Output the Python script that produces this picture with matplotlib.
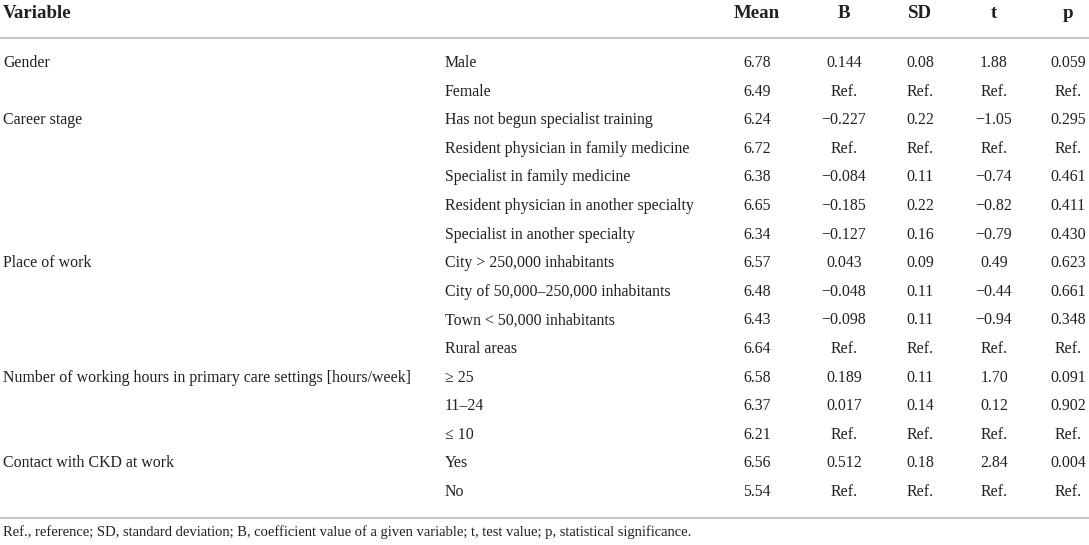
import matplotlib
matplotlib.use('Agg')
import matplotlib.pyplot as plt

# table contents
variables = ["Gender", "", "Career stage", "", "", "", "", "Place of work", "", "", "",
             "Number of working hours in primary care settings [hours/week]", "", "",
             "Contact with CKD at work", ""]
levels = ["Male", "Female", "Has not begun specialist training",
          "Resident physician in family medicine", "Specialist in family medicine",
          "Resident physician in another specialty", "Specialist in another specialty",
          "City > 250,000 inhabitants", "City of 50,000\u2013250,000 inhabitants",
          "Town < 50,000 inhabitants", "Rural areas", "\u2265 25", "11\u201324", "\u2264 10",
          "Yes", "No"]
mean_vals = ["6.78", "6.49", "6.24", "6.72", "6.38", "6.65", "6.34", "6.57", "6.48",
             "6.43", "6.64", "6.58", "6.37", "6.21", "6.56", "5.54"]
b_vals = ["0.144", "Ref.", "\u22120.227", "Ref.", "\u22120.084", "\u22120.185", "\u22120.127",
          "0.043", "\u22120.048", "\u22120.098", "Ref.", "0.189", "0.017", "Ref.", "0.512", "Ref."]
sd_vals = ["0.08", "Ref.", "0.22", "Ref.", "0.11", "0.22", "0.16", "0.09", "0.11", "0.11",
           "Ref.", "0.11", "0.14", "Ref.", "0.18", "Ref."]
t_vals = ["1.88", "Ref.", "\u22121.05", "Ref.", "\u22120.74", "\u22120.82", "\u22120.79", "0.49",
          "\u22120.44", "\u22120.94", "Ref.", "1.70", "0.12", "Ref.", "2.84", "Ref."]
p_vals = ["0.059", "Ref.", "0.295", "Ref.", "0.461", "0.411", "0.430", "0.623", "0.661",
          "0.348", "Ref.", "0.091", "0.902", "Ref.", "0.004", "Ref."]
headers = ["Variable", "Mean", "B", "SD", "t", "p"]
footnote = ("Ref., reference; SD, standard deviation; B, coefficient value of a given variable; "
            "t, test value; p, statistical significance.")

W, H = 1089, 545
plt.rcParams['font.family'] = ['Liberation Serif', 'DejaVu Serif']
txt_color = '#231f20'
rule_color = '#c8c8c8'
fs = 11.4

fig = plt.figure(figsize=(W / 100, H / 100), dpi=100)
ax = fig.add_axes([0, 0, 1, 1])
ax.set_xlim(0, W)
ax.set_ylim(H, 0)
ax.axis('off')

x_var = 3
x_lvl = 445
num_cols = [(757, mean_vals), (844, b_vals), (920, sd_vals), (994, t_vals), (1068, p_vals)]

# header
ax.text(x_var, 13, headers[0], fontsize=13.6, fontweight='bold', color=txt_color,
        ha='left', va='center')
for (xc, _), h in zip(num_cols, headers[1:]):
    ax.text(xc, 13, h, fontsize=13.6, fontweight='bold', color=txt_color,
            ha='center', va='center')
ax.plot([0, W], [37.5, 37.5], color=rule_color, lw=1.6, solid_capstyle='butt')

y0, step = 63, 28.6
for i in range(len(levels)):
    y = y0 + i * step
    if variables[i]:
        ax.text(x_var, y, variables[i], fontsize=fs, color=txt_color, ha='left', va='center')
    ax.text(x_lvl, y, levels[i], fontsize=fs, color=txt_color, ha='left', va='center')
    for xc, vals in num_cols:
        ax.text(xc, y, vals[i], fontsize=fs, color=txt_color, ha='center', va='center')

ax.plot([0, W], [517.5, 517.5], color=rule_color, lw=1.6, solid_capstyle='butt')
ax.text(x_var, 532, footnote, fontsize=10.5, color=txt_color, ha='left', va='center')

fig.savefig('out.png', dpi=100, facecolor='white')
